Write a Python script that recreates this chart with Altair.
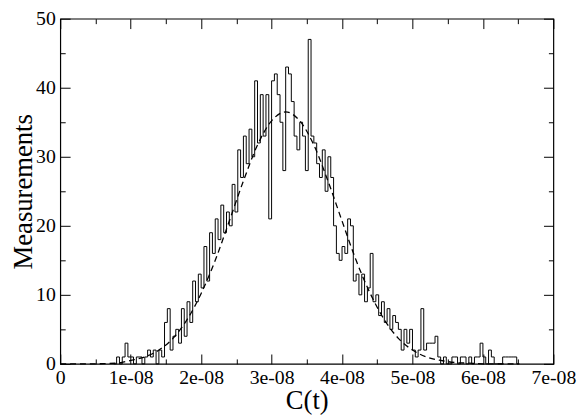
import altair as alt
import pandas as pd

# ---- data (x in units of 1e-8) ----
bin_start = 0.76
bin_width = 0.04
counts = [
    0, 1, 0, 1, 3, 1, 1, 0, 1, 1, 0, 1, 2, 1, 2, 0, 2, 1, 6, 8,
    2, 4, 5, 3, 8, 4, 9, 6, 12, 9, 13, 11, 17, 12, 19, 16, 21, 18, 23, 19,
    22, 20, 26, 22, 31, 27, 33, 29, 34, 30, 41, 32, 39, 33, 39, 21, 41, 42, 39, 35,
    28, 43, 42, 38, 33, 31, 35, 33, 28, 47, 33, 32, 29, 27, 31, 25, 30, 27, 20, 16,
    15, 17, 16, 21, 20, 12, 13, 10, 13, 9, 11, 16, 9, 10, 7, 9, 6, 8, 5, 7,
    6, 5, 2, 5, 3, 5, 2, 1, 2, 8, 2, 3, 3, 3, 4, 1, 0, 1, 0, 0,
    1, 1, 0, 1, 1, 0, 1, 0, 1, 1, 3, 1, 0, 2, 1, 0, 0, 0, 1, 1,
    1, 1, 1, 0,
]

curve_x = [0.0, 0.4, 0.8, 1.0, 1.2, 1.4, 1.6, 1.8, 2.0, 2.2, 2.4, 2.6, 2.8, 3.0,
           3.2, 3.4, 3.6, 3.8, 4.0, 4.2, 4.4, 4.6, 4.8, 5.0, 5.2, 5.4, 5.6,
           5.8, 6.0, 6.5]
curve_y = [0.0, 0.0, 0.1, 0.5, 1.0, 2.0, 3.7, 6.4, 10.2, 15.0, 20.7, 26.5, 31.7,
           35.2, 36.5, 35.2, 31.7, 26.5, 20.7, 15.0, 10.2, 6.4, 3.7, 2.0, 1.0,
           0.5, 0.2, 0.1, 0.0, 0.0]

x_major = [0, 1, 2, 3, 4, 5, 6, 7]
x_minor = [0.5, 1.5, 2.5, 3.5, 4.5, 5.5, 6.5]
y_major = [0, 10, 20, 30, 40, 50]
y_minor = [5, 15, 25, 35, 45]

E = 1e-8
edges = [(bin_start + i * bin_width) * E for i in range(len(counts) + 1)]
hist = pd.DataFrame({"c": edges, "n": counts + [counts[-1]]})
curve = pd.DataFrame({"c": [v * E for v in curve_x], "n": curve_y})

W, H = 500, 350
FONT = "Liberation Serif"
xdom = [0, 7 * E]
ydom = [0, 50]
xs = alt.Scale(domain=xdom, nice=False, zero=False)
ys = alt.Scale(domain=ydom, nice=False)


def tick_axis(orient, values, size, offset):
    return alt.Axis(orient=orient, values=values, tickSize=size, offset=offset,
                    labels=False, domain=False, grid=False, title=None,
                    tickColor="black", tickWidth=1)


main = alt.Chart(hist).mark_line(interpolate="step-after", color="black",
                                 strokeWidth=1).encode(
    x=alt.X("c:Q", scale=xs,
            axis=alt.Axis(orient="bottom", values=[v * E for v in x_major],
                          tickSize=0, domain=False, grid=False,
                          labelExpr="datum.value == 0 ? '0' : round(datum.value*1e8) + 'e-08'",
                          labelFont=FONT, labelFontSize=20, labelColor="black",
                          labelPadding=4, labelFlush=False, labelOverlap=False,
                          title="C(t)", titleFont=FONT, titleFontSize=27,
                          titleFontWeight="normal", titleColor="black",
                          titleBaseline="alphabetic", titleY=45)),
    y=alt.Y("n:Q", scale=ys,
            axis=alt.Axis(orient="left", values=y_major, tickSize=0,
                          domain=False, grid=False, labelFont=FONT,
                          labelFontSize=20, labelColor="black", labelPadding=5,
                          labelFlush=False,
                          title="Measurements", titleFont=FONT, titleFontSize=27,
                          titleFontWeight="normal", titleColor="black",
                          titleBaseline="alphabetic", titleX=-29)),
)

fit = alt.Chart(curve).mark_line(interpolate="monotone", color="black",
                                 strokeWidth=1.3, strokeDash=[6, 4]).encode(
    x=alt.X("c:Q", scale=xs, axis=tick_axis("top", [v * E for v in x_major], 10, -H)),
    y=alt.Y("n:Q", scale=ys, axis=tick_axis("right", y_major, 10, -W)),
)

minor_in = alt.Chart(curve).mark_line(opacity=0).encode(
    x=alt.X("c:Q", scale=xs, axis=tick_axis("top", [v * E for v in x_minor], 5, -H)),
    y=alt.Y("n:Q", scale=ys, axis=tick_axis("right", y_minor, 5, -W)),
)

major_opp = alt.Chart(curve).mark_line(opacity=0).encode(
    x=alt.X("c:Q", scale=xs, axis=tick_axis("bottom", [v * E for v in x_major], 10, -H)),
    y=alt.Y("n:Q", scale=ys, axis=tick_axis("left", y_major, 10, -W)),
)

minor_opp = alt.Chart(curve).mark_line(opacity=0).encode(
    x=alt.X("c:Q", scale=xs, axis=tick_axis("bottom", [v * E for v in x_minor], 5, -H)),
    y=alt.Y("n:Q", scale=ys, axis=tick_axis("left", y_minor, 5, -W)),
)

chart = alt.layer(main, fit, minor_in, major_opp, minor_opp).resolve_axis(
    x="independent", y="independent"
).properties(
    width=W, height=H,
    autosize=alt.AutoSizeParams(type="none"),
    padding={"left": 53, "top": 8, "right": 26, "bottom": 50},
    background="white",
).configure_view(stroke="black", strokeWidth=1.2)

chart.save("out.html", embed_options={"renderer": "svg", "actions": False})
